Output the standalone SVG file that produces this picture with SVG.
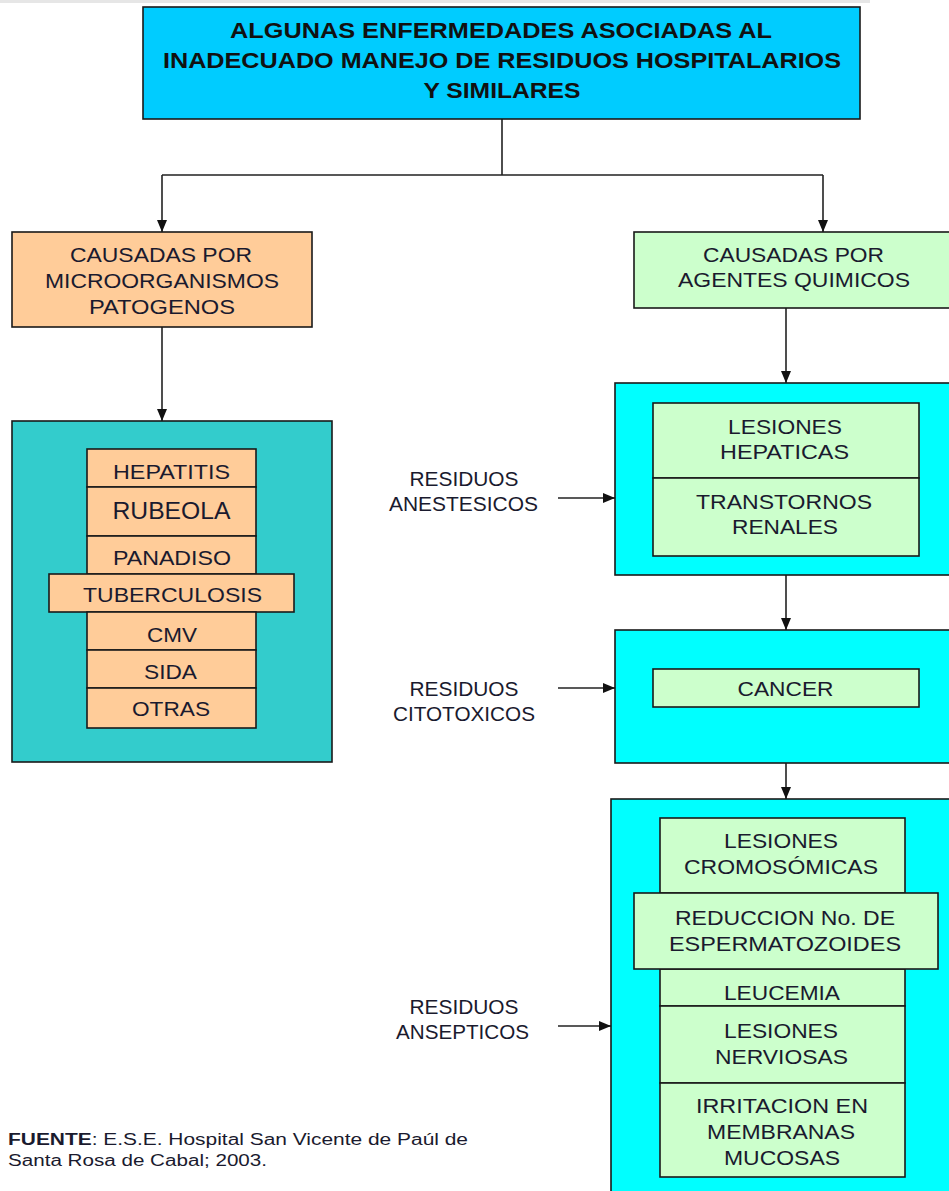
<svg xmlns="http://www.w3.org/2000/svg" width="949" height="1191" viewBox="0 0 949 1191">
<style>
text{font-family:"Liberation Sans",Arial,sans-serif;fill:#1a1a2e;text-anchor:middle}
.t{font-size:22px;font-weight:bold;fill:#111}
.b{font-size:21px}
.lb{font-size:19.5px}
.f{font-size:16px;text-anchor:start}
.box{stroke:#1a1a1a;stroke-width:1.6}
.title{fill:#00CCFF}
.org{fill:#FFCC99}
.grn{fill:#CCFFCC}
.teal{fill:#33CCCC}
.cyan{fill:#00FFFF}
.con{fill:none;stroke:#222;stroke-width:1.6;marker-end:url(#ah)}
.ln{fill:none;stroke:#222;stroke-width:1.6}
</style>
<defs>
<marker id="ah" viewBox="0 0 12 10" refX="12" refY="5" markerWidth="12" markerHeight="10" markerUnits="userSpaceOnUse" orient="auto">
<path d="M0,0 L12,5 L0,10 z" fill="#111"/>
</marker>
</defs>
<rect width="949" height="1191" fill="#fff"/>
<rect x="0" y="0" width="870" height="3" fill="#e6e6e6"/>

<g id="connectors">
<path class="ln" d="M502 119 V175 M162 175 H823"/>
<path class="con" d="M162 175 V232"/>
<path class="con" d="M823 175 V232"/>
<path class="con" d="M162 327 V421"/>
<path class="con" d="M786 308 V383"/>
<path class="con" d="M786 575 V630"/>
<path class="con" d="M786 763 V799"/>
<path class="con" d="M558 498 H615"/>
<path class="con" d="M558 688 H615"/>
<path class="con" d="M558 1026 H611"/>
</g>

<g id="title">
<rect class="box title" x="143" y="7" width="717" height="112"/>
<text class="t" x="501" y="38" textLength="542" lengthAdjust="spacingAndGlyphs">ALGUNAS ENFERMEDADES ASOCIADAS AL</text>
<text class="t" x="502" y="68" textLength="678" lengthAdjust="spacingAndGlyphs">INADECUADO MANEJO DE RESIDUOS HOSPITALARIOS</text>
<text class="t" x="502" y="97.5" textLength="157" lengthAdjust="spacingAndGlyphs">Y SIMILARES</text>
</g>

<g id="micro">
<rect class="box org" x="12" y="232" width="300" height="95"/>
<text class="b" x="161" y="261.5" textLength="182" lengthAdjust="spacingAndGlyphs">CAUSADAS POR</text>
<text class="b" x="162" y="287.5" textLength="234" lengthAdjust="spacingAndGlyphs">MICROORGANISMOS</text>
<text class="b" x="162" y="313.5" textLength="146" lengthAdjust="spacingAndGlyphs">PATOGENOS</text>
</g>

<g id="micro-list">
<rect class="box teal" x="12" y="421" width="320" height="341"/>
<rect class="box org" x="87" y="449" width="169" height="38"/>
<text class="b" x="171.5" y="478.5" textLength="117" lengthAdjust="spacingAndGlyphs">HEPATITIS</text>
<rect class="box org" x="87" y="487" width="169" height="49"/>
<text class="b" x="171.5" y="518.5" textLength="118" lengthAdjust="spacingAndGlyphs" style="font-size:23px">RUBEOLA</text>
<rect class="box org" x="87" y="536" width="169" height="38"/>
<text class="b" x="172" y="564.5" textLength="118" lengthAdjust="spacingAndGlyphs">PANADISO</text>
<rect class="box org" x="49" y="574" width="245" height="38"/>
<text class="b" x="172.5" y="601.5" textLength="179" lengthAdjust="spacingAndGlyphs">TUBERCULOSIS</text>
<rect class="box org" x="87" y="612" width="169" height="38"/>
<text class="b" x="172" y="641.5" textLength="50" lengthAdjust="spacingAndGlyphs">CMV</text>
<rect class="box org" x="87" y="650" width="169" height="38"/>
<text class="b" x="170.5" y="678.5" textLength="53" lengthAdjust="spacingAndGlyphs">SIDA</text>
<rect class="box org" x="87" y="688" width="169" height="40"/>
<text class="b" x="171" y="715.5" textLength="78" lengthAdjust="spacingAndGlyphs">OTRAS</text>
</g>

<g id="quimicos">
<rect class="box grn" x="634" y="232" width="320" height="76"/>
<text class="b" x="793.5" y="261.5" textLength="181" lengthAdjust="spacingAndGlyphs">CAUSADAS POR</text>
<text class="b" x="794" y="286.5" textLength="232" lengthAdjust="spacingAndGlyphs">AGENTES QUIMICOS</text>
</g>

<g id="anestesicos-label">
<text class="lb" x="464" y="486" textLength="109" lengthAdjust="spacingAndGlyphs">RESIDUOS</text>
<text class="lb" x="463.5" y="511" textLength="149" lengthAdjust="spacingAndGlyphs">ANESTESICOS</text>
</g>

<g id="anestesicos">
<rect class="box cyan" x="615" y="383" width="340" height="192"/>
<rect class="box grn" x="653" y="403" width="266" height="75"/>
<text class="b" x="785" y="433.5" textLength="114" lengthAdjust="spacingAndGlyphs">LESIONES</text>
<text class="b" x="784.5" y="458.5" textLength="129" lengthAdjust="spacingAndGlyphs">HEPATICAS</text>
<rect class="box grn" x="653" y="478" width="266" height="78"/>
<text class="b" x="784" y="508.5" textLength="176" lengthAdjust="spacingAndGlyphs">TRANSTORNOS</text>
<text class="b" x="785" y="533.5" textLength="106" lengthAdjust="spacingAndGlyphs">RENALES</text>
</g>

<g id="citotoxicos-label">
<text class="lb" x="464" y="696" textLength="109" lengthAdjust="spacingAndGlyphs">RESIDUOS</text>
<text class="lb" x="464" y="721" textLength="142" lengthAdjust="spacingAndGlyphs">CITOTOXICOS</text>
</g>

<g id="citotoxicos">
<rect class="box cyan" x="615" y="630" width="340" height="133"/>
<rect class="box grn" x="653" y="669" width="266" height="38"/>
<text class="b" x="785.5" y="695.5" textLength="96" lengthAdjust="spacingAndGlyphs">CANCER</text>
</g>

<g id="ansepticos-label">
<text class="lb" x="464" y="1014" textLength="109" lengthAdjust="spacingAndGlyphs">RESIDUOS</text>
<text class="lb" x="462.5" y="1039" textLength="133" lengthAdjust="spacingAndGlyphs">ANSEPTICOS</text>
</g>

<g id="ansepticos">
<rect class="box cyan" x="611" y="799" width="344" height="400"/>
<rect class="box grn" x="660" y="818" width="245" height="75"/>
<text class="b" x="781" y="847.5" textLength="114" lengthAdjust="spacingAndGlyphs">LESIONES</text>
<text class="b" x="781" y="873.5" textLength="194" lengthAdjust="spacingAndGlyphs">CROMOSÓMICAS</text>
<rect class="box grn" x="660" y="969" width="245" height="37"/>
<text class="b" x="782" y="999.5" textLength="116" lengthAdjust="spacingAndGlyphs">LEUCEMIA</text>
<rect class="box grn" x="660" y="1006" width="245" height="77"/>
<text class="b" x="781" y="1037.5" textLength="114" lengthAdjust="spacingAndGlyphs">LESIONES</text>
<text class="b" x="781.5" y="1063.5" textLength="133" lengthAdjust="spacingAndGlyphs">NERVIOSAS</text>
<rect class="box grn" x="660" y="1083" width="245" height="94"/>
<text class="b" x="782" y="1112.5" textLength="172" lengthAdjust="spacingAndGlyphs">IRRITACION EN</text>
<text class="b" x="781" y="1138.5" textLength="148" lengthAdjust="spacingAndGlyphs">MEMBRANAS</text>
<text class="b" x="782" y="1164.5" textLength="116" lengthAdjust="spacingAndGlyphs">MUCOSAS</text>
<rect class="box grn" x="634" y="893" width="304" height="76"/>
<text class="b" x="785" y="924.5" textLength="220" lengthAdjust="spacingAndGlyphs">REDUCCION No. DE</text>
<text class="b" x="785" y="950.5" textLength="232" lengthAdjust="spacingAndGlyphs">ESPERMATOZOIDES</text>
</g>

<g id="fuente">
<text class="f" x="8" y="1145" textLength="460" lengthAdjust="spacingAndGlyphs"><tspan font-weight="bold">FUENTE</tspan>: E.S.E. Hospital San Vicente de Paúl de</text>
<text class="f" x="8" y="1166" textLength="259" lengthAdjust="spacingAndGlyphs">Santa Rosa de Cabal; 2003.</text>
</g>
</svg>
